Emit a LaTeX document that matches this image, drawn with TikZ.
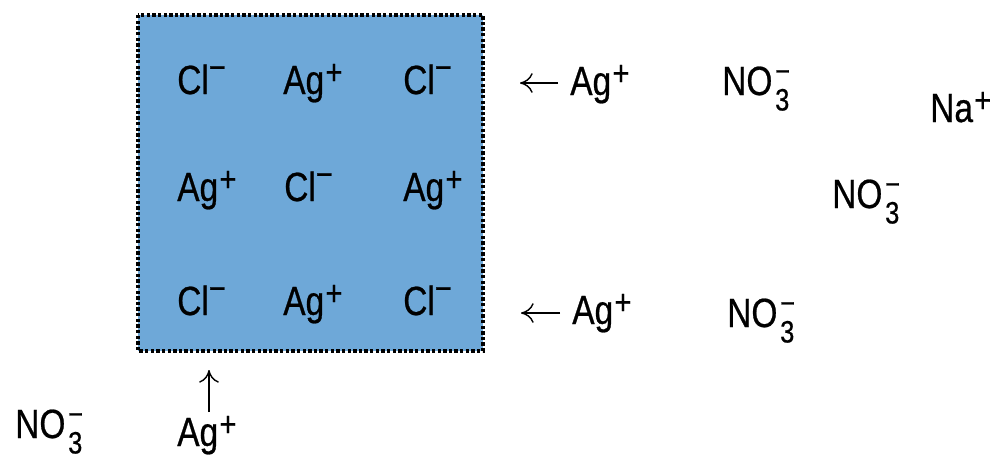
\documentclass[tikz,border=0pt]{standalone}
\usepackage{fontspec}
\setmainfont{Liberation Sans}[FakeStretch=0.82, FakeBold=0.6]
\usepackage{xcolor}
\usetikzlibrary{arrows.meta}

\definecolor{crystal}{RGB}{110,168,216}
% charges and the nitrate ion
\newcommand{\pluscharge}{\hspace{1pt}\raisebox{7pt}{\fontsize{25}{25}\selectfont +}}
\newcommand{\minuscharge}{\raisebox{10.5pt}{\fontsize{25}{25}\selectfont −}}
\newcommand{\nitrate}{NO\hspace{2pt}\makebox[0pt][l]{\raisebox{9.5pt}{\fontsize{22}{22}\selectfont −}}\raisebox{-11pt}{\fontsize{22}{22}\selectfont 3}}

\begin{document}
\begin{tikzpicture}[
    x=0.025cm, y=-0.025cm,
    ion/.style={inner sep=0, anchor=base west, font=\fontsize{29}{32}\selectfont},
    lattice/.style={fill=crystal},
    rim/.style={draw=black, line width=2.4pt, dash pattern=on 2.4pt off 1.6pt},
    line/.style={draw, line width=1pt, -{Computer Modern Rightarrow[length=9pt,width=14pt]}}
]
\useasboundingbox (0,0) rectangle (995,462);

% AgCl crystal
\fill[lattice] (138,15) rectangle (483,351);
\draw[rim] (138,15) rectangle (483,351);

% Ions in the crystal
\node[ion] (cl11) at (177,94) {Cl\minuscharge};
\node[ion] (ag12) at (283,94) {Ag\pluscharge};
\node[ion] (cl13) at (403,94) {Cl\minuscharge};
\node[ion] (ag21) at (177,201) {Ag\pluscharge};
\node[ion] (cl22) at (284,201) {Cl\minuscharge};
\node[ion] (ag23) at (403,201) {Ag\pluscharge};
\node[ion] (cl31) at (177,315) {Cl\minuscharge};
\node[ion] (ag32) at (283,315) {Ag\pluscharge};
\node[ion] (cl33) at (403,315) {Cl\minuscharge};

% Ions in solution
\node[ion] (agtop) at (570,95) {Ag\pluscharge};
\node[ion] (agbot) at (572,324) {Ag\pluscharge};
\node[ion] (agbelow) at (177,446) {Ag\pluscharge};
\node[ion] (no1) at (722,95) {\nitrate};
\node[ion] (no2) at (832,208) {\nitrate};
\node[ion] (no3) at (727,327) {\nitrate};
\node[ion] (no4) at (15,438) {\nitrate};
\node[ion] (na) at (930,122) {Na\pluscharge};

% Ag+ moving onto the crystal
\coordinate (tiptop) at (520,83);
\coordinate (tipbot) at (521,313);
\coordinate (tipbelow) at (209,370);
\draw[line] ([xshift=-0.3cm]agtop.west |- tiptop) -- (tiptop);
\draw[line] ([xshift=-0.3cm]agbot.west |- tipbot) -- (tipbot);
\draw[line] (tipbelow |- 0,412) -- (tipbelow);

\end{tikzpicture}
\end{document}
